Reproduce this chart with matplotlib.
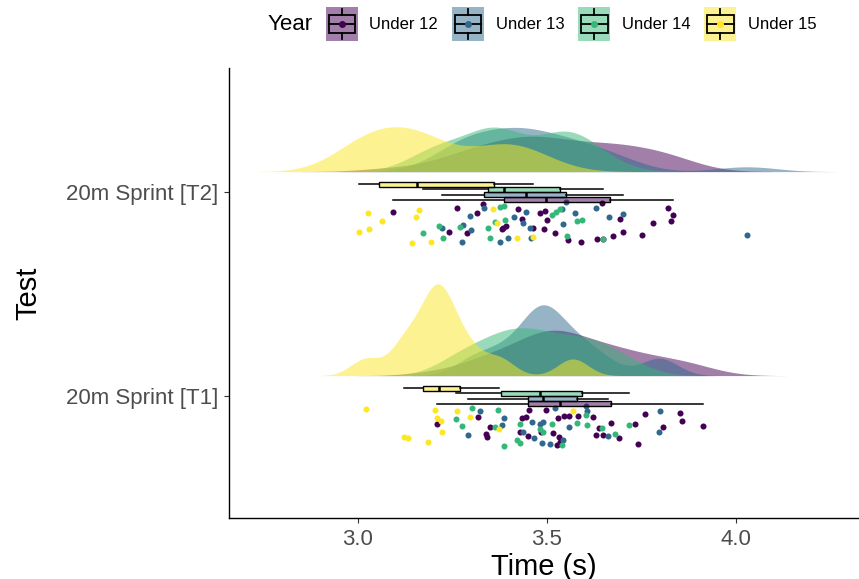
import numpy as np
import matplotlib.pyplot as plt
from matplotlib.patches import Rectangle, Patch
from matplotlib.lines import Line2D
from matplotlib.legend_handler import HandlerBase
from matplotlib.colors import to_rgba

plt.rcParams['font.family'] = ['Liberation Sans', 'DejaVu Sans']

years = ['Under 12', 'Under 13', 'Under 14', 'Under 15']
colors = ['#440154', '#31688E', '#35B779', '#FDE725']
tests = ['20m Sprint [T1]', '20m Sprint [T2]']

# sprint times (s)
t1_u12 = [3.210, 3.318, 3.350, 3.339, 3.342, 3.434, 3.445, 3.453, 3.498, 3.529, 3.545,
          3.559, 3.582, 3.622, 3.429, 3.450, 3.485, 3.516, 3.531, 3.535, 3.527, 3.630,
          3.648, 3.691, 3.670, 3.638, 3.733, 3.759, 3.852, 3.857, 3.913, 3.807, 3.741]
t1_u13 = [3.323, 3.387, 3.381, 3.292, 3.461, 3.490, 3.482, 3.437, 3.466, 3.487, 3.508,
          3.559, 3.603, 3.606, 3.522, 3.799, 3.796, 3.543, 3.662]
t1_u14 = [3.302, 3.371, 3.260, 3.276, 3.363, 3.429, 3.482, 3.514, 3.580, 3.606, 3.604,
          3.646, 3.680, 3.717, 3.421, 3.430, 3.387, 3.540, 3.490]
t1_u15 = [3.022, 3.204, 3.262, 3.297, 3.210, 3.220, 3.222, 3.374, 3.569, 3.122, 3.133, 3.186]

t2_u12 = [3.093, 3.262, 3.331, 3.315, 3.424, 3.482, 3.495, 3.500, 3.434, 3.384, 3.392,
          3.381, 3.463, 3.492, 3.241, 3.289, 3.646, 3.820, 3.833, 3.828, 3.781, 3.693,
          3.701, 3.675, 3.752, 3.648, 3.633, 3.590, 3.556, 3.522]
t2_u13 = [3.297, 3.334, 3.445, 3.413, 3.551, 3.540, 3.574, 3.630, 3.664, 3.701, 3.437,
          3.455, 3.543, 3.278, 3.223, 3.300, 3.276, 3.376, 3.397, 3.457, 4.029]
t2_u14 = [3.376, 3.387, 3.514, 3.524, 3.535, 3.580, 3.593, 3.389, 3.363, 3.344, 3.270,
          3.215, 3.173, 3.225, 3.350, 3.553, 3.648]
t2_u15 = [3.027, 3.162, 3.154, 3.064, 3.030, 3.003, 3.144, 3.194, 3.358, 3.368, 3.421, 3.463]

# vertical jitter of each point
j1_u12 = [-.137, -.103, -.152, -.186, -.201, -.108, -.103, -.069, -.069, -.108, -.098,
          -.098, -.098, -.103, -.176, -.196, -.176, -.181, -.201, -.225, -.240, -.191,
          -.191, -.206, -.132, -.157, -.137, -.088, -.083, -.123, -.147, -.152, -.235]
j1_u13 = [-.074, -.108, -.142, -.191, -.127, -.127, -.137, -.176, -.206, -.230, -.235,
          -.152, -.049, -.074, -.059, -.074, -.176, -.216, -.196]
j1_u14 = [-.059, -.069, -.113, -.147, -.152, -.137, -.162, -.137, -.132, -.142, -.093,
          -.157, -.186, -.142, -.216, -.230, -.245, -.240, -.176]
j1_u15 = [-.064, -.069, -.074, -.103, -.108, -.123, -.176, -.162, -.074, -.201, -.206, -.225]

j2_u12 = [-.098, -.078, -.059, -.103, -.083, -.103, -.093, -.137, -.132, -.176, -.167,
          -.181, -.176, -.181, -.196, -.201, -.054, -.078, -.113, -.142, -.152, -.132,
          -.196, -.216, -.211, -.230, -.230, -.245, -.235, -.201]
j2_u13 = [-.118, -.078, -.098, -.123, -.049, -.083, -.103, -.078, -.123, -.108, -.152,
          -.176, -.157, -.162, -.176, -.186, -.245, -.245, -.225, -.225, -.211]
j2_u14 = [-.074, -.069, -.113, -.098, -.083, -.142, -.137, -.137, -.147, -.176, -.172,
          -.167, -.201, -.225, -.225, -.216, -.230]
j2_u15 = [-.103, -.088, -.123, -.142, -.181, -.196, -.250, -.245, -.083, -.152, -.225, -.221]

times = {tests[0]: [t1_u12, t1_u13, t1_u14, t1_u15],
         tests[1]: [t2_u12, t2_u13, t2_u14, t2_u15]}
jitter = {tests[0]: [j1_u12, j1_u13, j1_u14, j1_u15],
          tests[1]: [j2_u12, j2_u13, j2_u14, j2_u15]}


def bw_nrd0(x):
    sd = np.std(x, ddof=1)
    q75, q25 = np.percentile(x, [75, 25])
    return 0.9 * min(sd, (q75 - q25) / 1.34) * len(x) ** -0.2


def kde(x):
    x = np.asarray(x)
    bw = bw_nrd0(x)
    grid = np.linspace(x.min() - 3 * bw, x.max() + 3 * bw, 512)
    d = np.exp(-0.5 * ((grid[:, None] - x[None, :]) / bw) ** 2).sum(1)
    return grid, d / (len(x) * bw * np.sqrt(2 * np.pi))


class BoxKeyHandler(HandlerBase):
    def create_artists(self, legend, orig_handle, xdescent, ydescent,
                       width, height, fontsize, trans):
        c = orig_handle.get_facecolor()
        x0, y0 = -xdescent, -ydescent
        cx, cy = x0 + width / 2, y0 + height / 2
        bg = Rectangle((x0, y0), width, height, facecolor=c[:3], alpha=0.5,
                       edgecolor='none', transform=trans)
        box = Rectangle((x0 + 0.08 * width, y0 + 0.24 * height), 0.84 * width, 0.52 * height,
                        facecolor='none', edgecolor='black', lw=1.3, transform=trans)
        w1 = Line2D([cx, cx], [y0 + 0.05 * height, y0 + 0.24 * height], color='black', lw=1.3, transform=trans)
        w2 = Line2D([cx, cx], [y0 + 0.76 * height, y0 + 0.95 * height], color='black', lw=1.3, transform=trans)
        med = Line2D([x0 + 0.08 * width, x0 + 0.92 * width], [cy, cy], color='black', lw=1.3, transform=trans)
        dot = Line2D([cx], [cy], marker='o', ms=4, color=c[:3], lw=0, transform=trans)
        return [bg, box, w1, w2, med, dot]


fig = plt.figure(figsize=(8.59, 5.79), dpi=100)
ax = fig.add_axes([0.2666, 0.1054, 0.7322, 0.7772])

# densities (half violins), scaled by the largest density overall
dens = {}
for test in tests:
    dens[test] = [kde(v) for v in times[test]]
dmax = max(d.max() for test in tests for g, d in dens[test])

dodge = [-0.0375, -0.0125, 0.0125, 0.0375]
for ti, test in enumerate(tests):
    pos = ti + 1
    for gi, color in enumerate(colors):
        grid, d = dens[test][gi]
        base = pos + 0.1
        ax.fill_between(grid, base, base + d / dmax * 0.45, color=color, alpha=0.5, lw=0, zorder=1)
    for gi, color in enumerate(colors):
        ax.scatter(times[test][gi], pos + np.array(jitter[test][gi]), s=19, color=color,
                   lw=0, zorder=2)
    for gi, color in enumerate(colors):
        ax.boxplot([times[test][gi]], positions=[pos + dodge[gi]], widths=0.023,
                   orientation='horizontal', patch_artist=True, showfliers=False,
                   showcaps=False, manage_ticks=False,
                   boxprops=dict(facecolor=to_rgba(color, 0.5), edgecolor='black', linewidth=1.0),
                   medianprops=dict(color='black', linewidth=1.8),
                   whiskerprops=dict(color='black', linewidth=1.1),
                   zorder=3)

ax.set_xlim(2.660, 4.3225)
ax.set_ylim(0.402, 2.608)
ax.set_xticks([3.0, 3.5, 4.0], ['3.0', '3.5', '4.0'])
ax.set_yticks([1, 2], tests)
for s in ['top', 'right']:
    ax.spines[s].set_visible(False)
for s in ['left', 'bottom']:
    ax.spines[s].set_linewidth(1.0)
ax.tick_params(length=3.3, width=0.8, color='#333333', labelsize=16,
               labelcolor='#4D4D4D', pad=4.5)
ax.set_xlabel('Time (s)', fontsize=21, labelpad=2)
ax.set_ylabel('Test', fontsize=21, labelpad=17)

handles = [Patch(facecolor=c) for c in colors]
fig.legend(handles, years, handler_map={Patch: BoxKeyHandler()}, ncol=4,
           loc='center left', bbox_to_anchor=(326 / 859, 1 - 24 / 579),
           frameon=False, fontsize=12, handlelength=1.9, handleheight=2.7,
           handletextpad=0.7, columnspacing=0.85, borderpad=0, borderaxespad=0)
fig.text(268 / 859, 1 - 24 / 579, 'Year', fontsize=16, va='center', ha='left')

fig.savefig('out.png', dpi=100)
